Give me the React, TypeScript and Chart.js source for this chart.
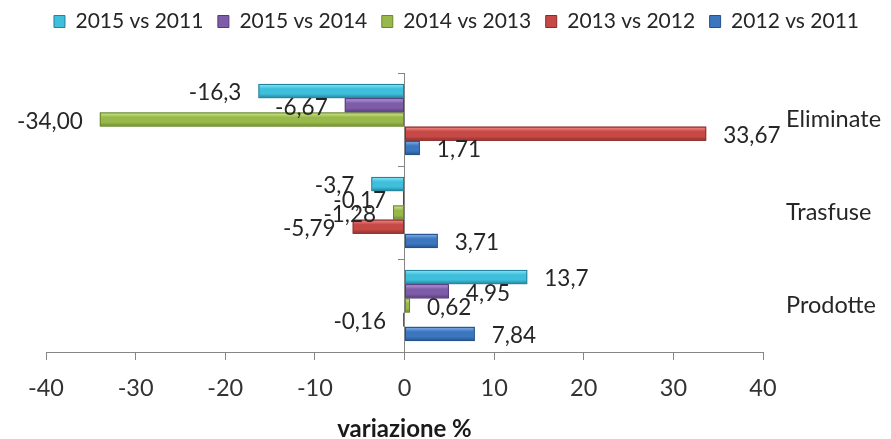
import React, { useEffect, useRef } from 'react';
import { Chart, registerables } from 'chart.js';

Chart.register(...registerables);

// ---- data ----
const categories = ['Eliminate', 'Trasfuse', 'Prodotte'];
const seriesNames = ['2015 vs 2011', '2015 vs 2014', '2014 vs 2013', '2013 vs 2012', '2012 vs 2011'];
const v2015vs2011 = [-16.3, -3.7, 13.7];
const v2015vs2014 = [-6.67, -0.17, 4.95];
const v2014vs2013 = [-34.0, -1.28, 0.62];
const v2013vs2012 = [33.67, -5.79, -0.16];
const v2012vs2011 = [1.71, 3.71, 7.84];
const seriesDecimals = [1, 2, 2, 2, 2];
const xTicks = [-40, -30, -20, -10, 0, 10, 20, 30, 40];
const axisTitle = 'variazione %';

// ---- styles ----
const baseColors = ['#3EBFDB', '#7D5DA8', '#98B84A', '#C64946', '#3C76BE'];
const lightColors = ['#8AE9FB', '#BFA0EA', '#D6EE8E', '#F7908C', '#86B6EE'];
const darkColors = ['#23839C', '#55397C', '#6A872C', '#8A2B29', '#24518C'];
const FONT = 'Lato';

const bevelPlugin = {
  id: 'bevel',
  afterDatasetsDraw(chart: any) {
    const ctx = chart.ctx as CanvasRenderingContext2D;
    ctx.save();
    chart.data.datasets.forEach((_ds: any, di: number) => {
      const meta = chart.getDatasetMeta(di);
      meta.data.forEach((el: any) => {
        const { x, y, base, height } = el.getProps(['x', 'y', 'base', 'height'], true);
        const l = Math.min(x, base);
        const r = Math.max(x, base);
        const t = y - height / 2;
        const b = y + height / 2;
        if (r - l < 1) return;
        const g = ctx.createLinearGradient(0, t, 0, b);
        g.addColorStop(0, lightColors[di]);
        g.addColorStop(0.35, baseColors[di]);
        g.addColorStop(0.7, baseColors[di]);
        g.addColorStop(1, darkColors[di]);
        ctx.fillStyle = g;
        ctx.fillRect(l + 1, t + 1, r - l - 2, b - t - 2);
        ctx.strokeStyle = darkColors[di];
        ctx.lineWidth = 1;
        ctx.strokeRect(l + 0.5, t + 0.5, r - l - 1, b - t - 1);
      });
    });
    ctx.restore();
  },
};

const valueLabelPlugin = {
  id: 'valueLabels',
  afterDatasetsDraw(chart: any) {
    const ctx = chart.ctx as CanvasRenderingContext2D;
    ctx.save();
    ctx.font = `22.5px ${FONT}`;
    ctx.fillStyle = '#262626';
    ctx.textBaseline = 'middle';
    chart.data.datasets.forEach((ds: any, di: number) => {
      const meta = chart.getDatasetMeta(di);
      meta.data.forEach((el: any, i: number) => {
        const v = ds.data[i] as number;
        const txt = v.toFixed(seriesDecimals[di]).replace('.', ',');
        const off = 17;
        if (v >= 0) {
          ctx.textAlign = 'left';
          ctx.fillText(txt, el.x + off, el.y + 2);
        } else {
          ctx.textAlign = 'right';
          ctx.fillText(txt, el.x - off, el.y + 2);
        }
      });
    });
    ctx.restore();
  },
};

export default function App() {
  const canvasRef = useRef<HTMLCanvasElement | null>(null);

  useEffect(() => {
    if (!canvasRef.current) return;
    const seriesValues = [v2015vs2011, v2015vs2014, v2014vs2013, v2013vs2012, v2012vs2011];
    const chart = new Chart(canvasRef.current, {
      type: 'bar',
      data: {
        labels: categories,
        datasets: seriesNames.map((name, i) => ({
          label: name,
          data: seriesValues[i],
          backgroundColor: baseColors[i],
          borderColor: darkColors[i],
          borderWidth: 1,
          borderSkipped: false,
        })),
      },
      options: {
        indexAxis: 'y',
        responsive: false,
        animation: false,
        layout: { padding: { top: -3.5, left: 22, right: 0, bottom: 0 } },
        datasets: { bar: { categoryPercentage: 0.765, barPercentage: 1 } },
        plugins: {
          legend: {
            position: 'top',
            align: 'center',
            labels: {
              font: { family: FONT, size: 21 },
              color: '#262626',
              boxWidth: 11,
              boxHeight: 12,
              padding: 14.5,
            },
          },
          tooltip: { enabled: false },
        },
        scales: {
          x: {
            type: 'linear',
            position: 'bottom',
            min: xTicks[0],
            max: xTicks[xTicks.length - 1],
            ticks: {
              stepSize: xTicks[1] - xTicks[0],
              font: { family: FONT, size: 23.5 },
              color: '#333333',
              padding: 14,
            },
            grid: { display: true, drawOnChartArea: false, drawTicks: true, tickLength: 8, color: '#868686' },
            border: { display: true, color: '#868686' },
            title: {
              display: true,
              text: axisTitle,
              font: { family: FONT, size: 24, weight: 'bold', lineHeight: 0.8 },
              color: '#1a1a1a',
              padding: { top: 0, bottom: 0 },
            },
            afterFit: (s: any) => { s.height = 87; },
          },
          xt: {
            type: 'linear',
            position: 'top',
            display: true,
            grid: { display: false },
            border: { display: false },
            ticks: { display: false },
            afterFit: (s: any) => { s.height = 31; },
          },
          y: {
            type: 'category',
            position: { x: 0 },
            offset: true,
            grid: { display: true, offset: true, drawOnChartArea: false, drawTicks: true, tickLength: 6, color: '#868686' },
            border: { display: true, color: '#868686' },
            ticks: { display: false },
          },
          y2: {
            type: 'category',
            position: 'right',
            offset: true,
            grid: { display: false, drawTicks: false },
            border: { display: false },
            ticks: { font: { family: FONT, size: 23.5 }, color: '#262626', padding: 23 },
            afterFit: (s: any) => { s.width = 128; },
          },
          yl: {
            type: 'linear',
            position: 'left',
            grid: { display: false },
            border: { display: false },
            ticks: { display: false },
            afterFit: (s: any) => { s.width = 24; },
          },
        },
      } as any,
      plugins: [bevelPlugin, valueLabelPlugin],
    });
    return () => chart.destroy();
  }, []);

  return (
    <div style={{ position: 'fixed', left: 0, top: 0, width: 891, height: 439, background: '#fff' }}>
      <canvas ref={canvasRef} width={891} height={439} style={{ display: 'block' }} />
    </div>
  );
}
